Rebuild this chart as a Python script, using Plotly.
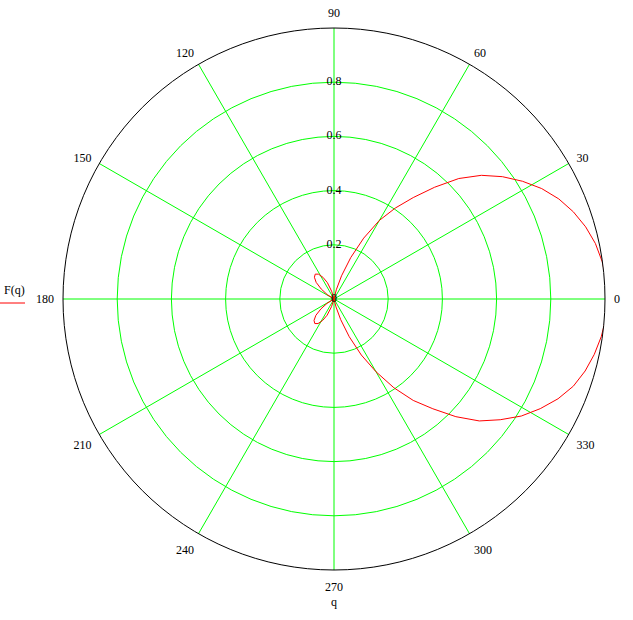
import plotly.graph_objects as go

# ---- data (degrees, normalised amplitude) ----
main_theta = [-80, -76, -72, -68, -64, -60, -56, -52, -48, -44, -40, -36, -32, -28, -24, -20,
              -16, -12, -8, -4, 0, 4, 8, 12, 16, 20, 24, 28, 32, 36, 40, 44, 48, 52, 56, 60,
              64, 68, 72, 76, 80]
main_r = [0, 0.03, 0.08, 0.15, 0.23, 0.31, 0.395, 0.475, 0.545, 0.625, 0.70, 0.758, 0.815,
          0.862, 0.905, 0.94, 0.964, 0.982, 0.996, 1.006, 1.012, 1.008, 0.999, 0.986, 0.966,
          0.94, 0.908, 0.868, 0.82, 0.768, 0.71, 0.64, 0.555, 0.475, 0.405, 0.335, 0.25,
          0.165, 0.09, 0.035, 0]

upper_lobe_theta = [102, 107, 112, 117, 122, 127, 132, 137, 142, 147, 152]
upper_lobe_r = [0, 0.03, 0.065, 0.09, 0.108, 0.115, 0.108, 0.09, 0.06, 0.03, 0]

lower_lobe_theta = [207, 212, 217, 222, 227, 232, 237, 242, 247, 252, 257]
lower_lobe_r = [0, 0.03, 0.06, 0.09, 0.108, 0.115, 0.108, 0.09, 0.065, 0.03, 0]

closing_theta = [280]
closing_r = [0]

angle_ticks = [0, 30, 60, 90, 120, 150, 180, 210, 240, 270, 300, 330]
angle_labels = ["0", "30", "60", "90", "120", "150", "180", "210", "240", "270", "300", "330"]

radial_ticks = [0.2, 0.4, 0.6, 0.8]
radial_label_r = [0, 0.2, 0.4, 0.6, 0.8]
radial_label_text = ["0", "0.2", "0.4", "0.6", "0.8"]

theta_all = main_theta + upper_lobe_theta + lower_lobe_theta + closing_theta
r_all = main_r + upper_lobe_r + lower_lobe_r + closing_r

W, H = 633, 620
cx, cy, R = 334, 299, 271
FONT = dict(family="Liberation Serif, Times New Roman, serif", size=12, color="black")

fig = go.Figure()

fig.add_trace(go.Scatterpolar(
    r=r_all, theta=theta_all, mode="lines",
    line=dict(color="#FF0000", width=1),
    hoverinfo="skip", cliponaxis=True,
))

fig.add_trace(go.Scatterpolar(
    r=radial_label_r, theta=[90] * len(radial_label_r), mode="text",
    text=radial_label_text, textposition="middle center",
    textfont=FONT, hoverinfo="skip", cliponaxis=False,
))

fig.update_layout(
    width=W, height=H,
    margin=dict(l=0, r=0, t=0, b=0),
    paper_bgcolor="white",
    showlegend=False,
    polar=dict(
        domain=dict(x=[(cx - R) / W, (cx + R) / W],
                    y=[(H - cy - R) / H, (H - cy + R) / H]),
        bgcolor="white",
        angularaxis=dict(
            rotation=0, direction="counterclockwise",
            tickmode="array", tickvals=angle_ticks, ticktext=angle_labels,
            showgrid=True, gridcolor="#00FF00", gridwidth=1,
            showline=True, linecolor="black", linewidth=1,
            ticks="outside", ticklen=6, tickcolor="rgba(0,0,0,0)",
            tickfont=FONT,
        ),
        radialaxis=dict(
            range=[0, 1], tickmode="array", tickvals=radial_ticks,
            showticklabels=False, ticks="", showline=False,
            showgrid=True, gridcolor="#00FF00", gridwidth=1,
        ),
    ),
    annotations=[
        dict(text="F(q)", x=14 / W, y=1 - 290 / H, xref="paper", yref="paper",
             showarrow=False, font=FONT, xanchor="center", yanchor="middle"),
        dict(text="q", x=334 / W, y=1 - 602 / H, xref="paper", yref="paper",
             showarrow=False, font=FONT, xanchor="center", yanchor="middle"),
    ],
    shapes=[
        dict(type="line", xref="paper", yref="paper",
             x0=0, x1=25 / W, y0=1 - 303 / H, y1=1 - 303 / H,
             line=dict(color="#FF0000", width=1)),
    ],
)

fig.write_html(
    "out.html",
    config={"displayModeBar": False},
    post_script="document.body.style.margin='0';document.body.style.overflow='hidden';",
)
